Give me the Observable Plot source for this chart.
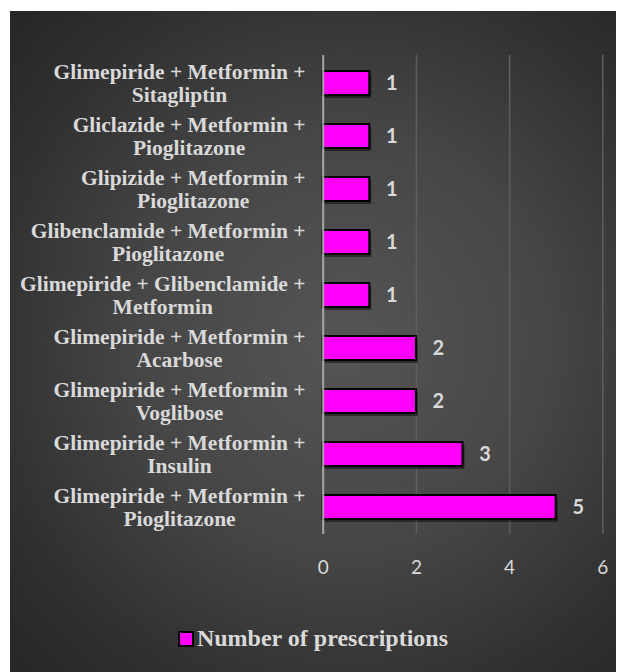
<!DOCTYPE html>
<html>
<head>
<meta charset="utf-8">
<script src="https://cdn.jsdelivr.net/npm/d3@7"></script>
<script src="https://cdn.jsdelivr.net/npm/@observablehq/plot@0.6"></script>
<style>
  html, body { margin: 0; padding: 0; background: #ffffff; }
  #panel {
    position: absolute; left: 10px; top: 11px; width: 606px; height: 661px;
    background: radial-gradient(ellipse 75% 70% at 55% 50%, #555555 0%, #464646 45%, #303030 80%, #272727 100%);
    overflow: hidden;
  }
  #chart { position: absolute; left: 0; top: 0; }
  #legend {
    position: absolute; left: 0; width: 606px; top: 614px; text-align: center;
    font-family: "Liberation Serif", "Times New Roman", serif; font-weight: bold;
    font-size: 24px; color: #d9d9d9; white-space: nowrap;
  }
  #legend .sw {
    display: inline-block; width: 12px; height: 12px; background: #ff00ff;
    border: 2px solid #000; vertical-align: -1px; margin-right: 3px;
  }
</style>
</head>
<body>
<div id="panel">
  <div id="chart"></div>
  <div id="legend"><span class="sw"></span>Number of prescriptions</div>
</div>
<script>
const categories = [
  "Glimepiride + Metformin +\nSitagliptin",
  "Gliclazide + Metformin +\nPioglitazone",
  "Glipizide + Metformin +\nPioglitazone",
  "Glibenclamide + Metformin +\nPioglitazone",
  "Glimepiride + Glibenclamide +\nMetformin",
  "Glimepiride + Metformin +\nAcarbose",
  "Glimepiride + Metformin +\nVoglibose",
  "Glimepiride + Metformin +\nInsulin",
  "Glimepiride + Metformin +\nPioglitazone"
];
const values = [1, 1, 1, 1, 1, 2, 2, 3, 5];
const xTicks = [0, 2, 4, 6];

const data = categories.map((c, i) => ({cat: c, value: values[i]}));

// label blocks are right-aligned against the axis, lines centered within the block
const labelFont = "bold 21.5px 'Liberation Serif', 'Times New Roman', serif";
const ctx = document.createElement("canvas").getContext("2d");
ctx.font = labelFont;
const labelGap = 17.7;
const labelMarks = data.map(d => {
  const w = Math.max(...d.cat.split("\n").map(s => ctx.measureText(s).width));
  return Plot.text([d], {
    y: "cat", text: "cat", frameAnchor: "left", dx: -labelGap - w / 2,
    textAnchor: "middle", lineAnchor: "middle", lineHeight: 1.06,
    fontSize: 21.5, fontWeight: "bold", fill: "#d9d9d9",
    fontFamily: "'Liberation Serif', 'Times New Roman', serif"
  });
});

const plot = Plot.plot({
  width: 606,
  height: 580,
  marginLeft: 312.7,
  marginRight: 13.7,
  marginTop: 44,
  marginBottom: 57,
  style: {background: "transparent", overflow: "visible"},
  x: {domain: [0, 6], ticks: xTicks},
  y: {domain: categories, paddingInner: 0.55, paddingOuter: 0.275, axis: null},
  marks: [
    Plot.ruleX([2, 4, 6], {stroke: "#5e5e5e", strokeWidth: 1.5}),
    Plot.axisX({
      ticks: xTicks, tickSize: 0, tickPadding: 26, label: null,
      tickFormat: d => String(d),
      fontSize: 19, fill: "#d9d9d9", fontFamily: "Lato, 'Open Sans', sans-serif"
    }),
    Plot.barX(data, {y: "cat", x: "value", fill: "#000", fillOpacity: 0.45, dx: 2, dy: 3}),
    Plot.barX(data, {y: "cat", x: "value", fill: "#ff00ff", stroke: "#000", strokeWidth: 2}),
    Plot.ruleX([0], {stroke: "#a6a6a6", strokeWidth: 2}),
    Plot.text(data, {
      y: "cat", x: "value", text: d => String(d.value), dx: 22,
      fontSize: 20, fontWeight: "bold", fill: "#d9d9d9",
      fontFamily: "Lato, 'Open Sans', sans-serif"
    }),
    ...labelMarks
  ]
});
document.getElementById("chart").appendChild(plot);
</script>
</body>
</html>
